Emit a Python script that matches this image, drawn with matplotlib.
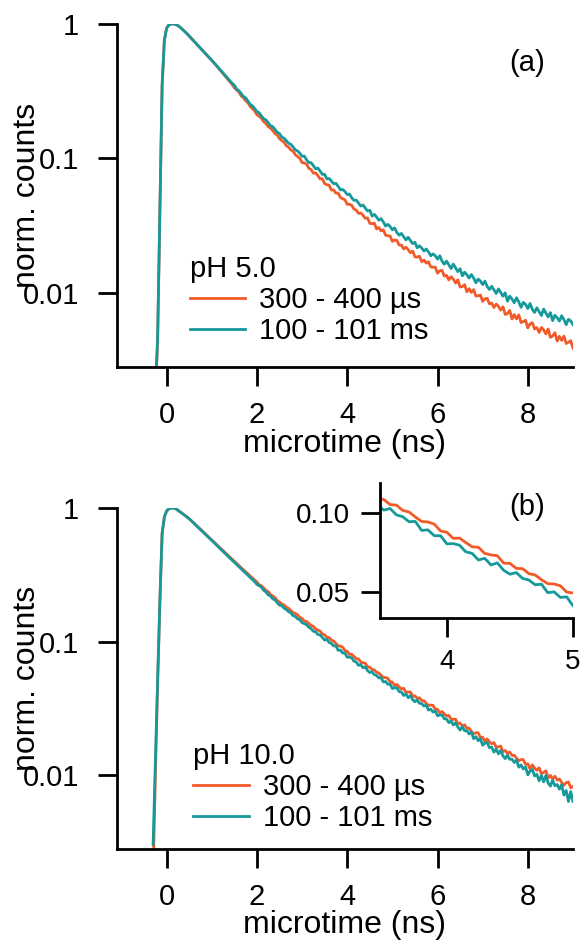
import matplotlib.pyplot as plt
import numpy as np
from matplotlib.ticker import FixedLocator, FixedFormatter, NullLocator

plt.rcParams['font.family'] = ['Liberation Sans', 'DejaVu Sans']

# decay histograms, 50 ps channels from -0.30 ns to 9.00 ns
# values are log10(norm. counts)

# (a) pH 5.0
log_a_300us = [
    -3.00, -2.76, -2.36, -1.40, -0.46, -0.12, -0.030, -0.008, 0.000, 0.000,
    -0.004, -0.012, -0.025, -0.040, -0.056, -0.072, -0.090, -0.107, -0.125, -0.143,
    -0.162, -0.180, -0.199, -0.216, -0.233, -0.252, -0.271, -0.290, -0.309, -0.330,
    -0.350, -0.370, -0.390, -0.410, -0.430, -0.450, -0.474, -0.491, -0.505, -0.535,
    -0.548, -0.572, -0.585, -0.614, -0.631, -0.647, -0.676, -0.687, -0.702, -0.727,
    -0.741, -0.765, -0.774, -0.794, -0.816, -0.826, -0.854, -0.868, -0.879, -0.906,
    -0.916, -0.937, -0.947, -0.973, -0.987, -1.000, -1.032, -1.034, -1.044, -1.074,
    -1.083, -1.110, -1.109, -1.128, -1.153, -1.152, -1.188, -1.197, -1.200, -1.236,
    -1.235, -1.259, -1.259, -1.292, -1.301, -1.309, -1.342, -1.342, -1.350, -1.378,
    -1.385, -1.410, -1.407, -1.424, -1.447, -1.444, -1.483, -1.487, -1.482, -1.525,
    -1.515, -1.540, -1.532, -1.572, -1.576, -1.578, -1.618, -1.608, -1.611, -1.645,
    -1.646, -1.674, -1.661, -1.679, -1.703, -1.690, -1.733, -1.735, -1.728, -1.769,
    -1.757, -1.780, -1.770, -1.808, -1.810, -1.810, -1.855, -1.836, -1.834, -1.876,
    -1.871, -1.905, -1.881, -1.899, -1.928, -1.904, -1.958, -1.955, -1.940, -1.993,
    -1.970, -1.998, -1.977, -2.025, -2.023, -2.017, -2.065, -2.045, -2.042, -2.083,
    -2.077, -2.110, -2.085, -2.102, -2.130, -2.105, -2.162, -2.155, -2.132, -2.196,
    -2.163, -2.195, -2.165, -2.222, -2.215, -2.205, -2.262, -2.232, -2.224, -2.270,
    -2.259, -2.296, -2.259, -2.276, -2.307, -2.270, -2.332, -2.323, -2.298, -2.360,
    -2.325, -2.355, -2.323, -2.378, -2.369, -2.357, -2.412,
]
log_a_100ms = [
    -3.00, -2.74, -2.34, -1.38, -0.45, -0.12, -0.030, -0.007, 0.000, 0.000,
    -0.004, -0.012, -0.025, -0.040, -0.056, -0.072, -0.090, -0.107, -0.125, -0.143,
    -0.162, -0.180, -0.198, -0.216, -0.234, -0.252, -0.270, -0.289, -0.308, -0.327,
    -0.346, -0.365, -0.384, -0.403, -0.422, -0.441, -0.456, -0.485, -0.496, -0.517,
    -0.540, -0.550, -0.573, -0.598, -0.609, -0.629, -0.652, -0.661, -0.685, -0.705,
    -0.714, -0.736, -0.757, -0.764, -0.785, -0.806, -0.816, -0.842, -0.850, -0.868,
    -0.888, -0.895, -0.915, -0.937, -0.945, -0.962, -0.985, -0.983, -1.011, -1.032,
    -1.032, -1.055, -1.078, -1.072, -1.096, -1.119, -1.119, -1.153, -1.150, -1.169,
    -1.189, -1.186, -1.209, -1.235, -1.232, -1.247, -1.270, -1.266, -1.294, -1.313,
    -1.311, -1.333, -1.355, -1.348, -1.370, -1.392, -1.386, -1.430, -1.417, -1.437,
    -1.461, -1.449, -1.473, -1.504, -1.491, -1.508, -1.532, -1.518, -1.552, -1.572,
    -1.559, -1.583, -1.607, -1.588, -1.611, -1.635, -1.625, -1.666, -1.651, -1.668,
    -1.690, -1.675, -1.697, -1.725, -1.711, -1.725, -1.750, -1.725, -1.765, -1.788,
    -1.765, -1.793, -1.820, -1.787, -1.815, -1.843, -1.822, -1.874, -1.848, -1.867,
    -1.891, -1.865, -1.891, -1.926, -1.899, -1.913, -1.940, -1.914, -1.954, -1.976,
    -1.952, -1.979, -2.006, -1.972, -1.999, -2.026, -2.001, -2.063, -2.026, -2.047,
    -2.075, -2.038, -2.069, -2.109, -2.072, -2.087, -2.118, -2.080, -2.124, -2.147,
    -2.112, -2.141, -2.170, -2.122, -2.151, -2.180, -2.148, -2.208, -2.168, -2.187,
    -2.211, -2.172, -2.200, -2.238, -2.198, -2.210, -2.238,
]

# (b) pH 10.0
log_b_300us = [
    -2.75, -2.00, -1.32, -0.71, -0.19, -0.066, -0.022, -0.007, 0.000, 0.000,
    -0.005, -0.017, -0.030, -0.042, -0.055, -0.067, -0.080, -0.096, -0.112, -0.128,
    -0.144, -0.160, -0.176, -0.192, -0.208, -0.224, -0.240, -0.256, -0.272, -0.288,
    -0.304, -0.320, -0.336, -0.352, -0.368, -0.384, -0.400, -0.416, -0.431, -0.447,
    -0.462, -0.478, -0.493, -0.509, -0.524, -0.540, -0.554, -0.575, -0.582, -0.600,
    -0.617, -0.626, -0.648, -0.659, -0.670, -0.694, -0.703, -0.719, -0.726, -0.743,
    -0.751, -0.768, -0.783, -0.789, -0.799, -0.819, -0.827, -0.846, -0.850, -0.865,
    -0.880, -0.886, -0.905, -0.914, -0.922, -0.943, -0.949, -0.968, -0.970, -0.990,
    -0.996, -1.015, -1.032, -1.034, -1.042, -1.068, -1.073, -1.096, -1.095, -1.112,
    -1.128, -1.130, -1.153, -1.159, -1.162, -1.190, -1.191, -1.210, -1.211, -1.230,
    -1.235, -1.253, -1.268, -1.269, -1.276, -1.300, -1.303, -1.330, -1.320, -1.339,
    -1.354, -1.350, -1.378, -1.379, -1.377, -1.410, -1.406, -1.425, -1.421, -1.441,
    -1.443, -1.463, -1.479, -1.475, -1.478, -1.507, -1.507, -1.534, -1.523, -1.542,
    -1.556, -1.553, -1.581, -1.583, -1.581, -1.615, -1.610, -1.633, -1.623, -1.649,
    -1.648, -1.672, -1.691, -1.682, -1.683, -1.719, -1.716, -1.748, -1.729, -1.750,
    -1.765, -1.756, -1.791, -1.788, -1.782, -1.824, -1.815, -1.837, -1.827, -1.852,
    -1.851, -1.874, -1.893, -1.883, -1.884, -1.919, -1.915, -1.954, -1.923, -1.947,
    -1.964, -1.945, -1.989, -1.980, -1.967, -2.021, -2.002, -2.028, -2.008, -2.037,
    -2.029, -2.055, -2.076, -2.056, -2.051, -2.095, -2.085,
]
log_b_100ms = [
    -2.52, -1.90, -1.29, -0.70, -0.19, -0.066, -0.022, -0.007, 0.000, 0.000,
    -0.005, -0.017, -0.030, -0.042, -0.055, -0.067, -0.081, -0.097, -0.113, -0.130,
    -0.146, -0.162, -0.179, -0.195, -0.211, -0.228, -0.244, -0.260, -0.277, -0.293,
    -0.309, -0.326, -0.342, -0.359, -0.375, -0.391, -0.408, -0.424, -0.440, -0.456,
    -0.471, -0.488, -0.503, -0.520, -0.535, -0.552, -0.573, -0.582, -0.594, -0.616,
    -0.629, -0.651, -0.658, -0.681, -0.687, -0.710, -0.727, -0.731, -0.750, -0.760,
    -0.776, -0.784, -0.806, -0.812, -0.830, -0.836, -0.859, -0.865, -0.875, -0.893,
    -0.904, -0.923, -0.927, -0.947, -0.950, -0.970, -0.989, -0.983, -1.007, -1.014,
    -1.033, -1.032, -1.066, -1.064, -1.086, -1.086, -1.117, -1.116, -1.122, -1.147,
    -1.153, -1.178, -1.172, -1.197, -1.189, -1.217, -1.232, -1.226, -1.248, -1.254,
    -1.272, -1.270, -1.302, -1.299, -1.320, -1.318, -1.352, -1.345, -1.347, -1.375,
    -1.377, -1.404, -1.392, -1.420, -1.404, -1.435, -1.451, -1.437, -1.462, -1.464,
    -1.483, -1.476, -1.513, -1.505, -1.528, -1.520, -1.556, -1.549, -1.550, -1.578,
    -1.579, -1.607, -1.595, -1.624, -1.608, -1.640, -1.662, -1.637, -1.668, -1.667,
    -1.692, -1.676, -1.727, -1.712, -1.742, -1.727, -1.776, -1.760, -1.756, -1.794,
    -1.790, -1.828, -1.804, -1.841, -1.814, -1.856, -1.876, -1.850, -1.882, -1.880,
    -1.905, -1.888, -1.940, -1.924, -1.954, -1.938, -1.998, -1.969, -1.958, -2.006,
    -1.994, -2.042, -2.002, -2.050, -2.003, -2.059, -2.082, -2.038, -2.079, -2.070,
    -2.105, -2.071, -2.149, -2.115, -2.197, -2.123, -2.197,
]

microtime = np.round(-0.30 + 0.05 * np.arange(len(log_a_300us)), 2)

labels = ["300 - 400 \u00b5s", "100 - 101 ms"]
orange = "#F15A29"
teal = "#16999B"

fig = plt.figure(figsize=(5.84, 9.40), dpi=100)
ax_a = fig.add_axes([0.2003, 0.6096, 0.7808, 0.3649])
ax_b = fig.add_axes([0.2003, 0.0968, 0.7808, 0.3628])
ins = fig.add_axes([0.6507, 0.3426, 0.3305, 0.1436])


def style(ax, size=21, xpad=11, ypad=14):
    ax.set_yscale("log")
    for s in ("top", "right"):
        ax.spines[s].set_visible(False)
    for s in ("left", "bottom"):
        ax.spines[s].set_linewidth(2)
    ax.yaxis.set_minor_locator(NullLocator())
    ax.xaxis.set_minor_locator(NullLocator())
    ax.tick_params(which="major", direction="out", length=13.5, width=2,
                   labelsize=size)
    ax.tick_params(axis="x", pad=xpad)
    ax.tick_params(axis="y", pad=ypad)


for ax, lo, hi, ph, anchor in [
    (ax_a, log_a_300us, log_a_100ms, "pH 5.0", (0.16, 0.3265)),
    (ax_b, log_b_300us, log_b_100ms, "pH 10.0", (0.167, 0.314)),
]:
    style(ax)
    ax.plot(microtime, 10 ** np.array(lo), color=orange, lw=2.0, label=labels[0])
    ax.plot(microtime, 10 ** np.array(hi), color=teal, lw=2.0, label=labels[1])
    ax.set_xlim(-1.1, 9.0)
    ax.set_ylim(0.0028, 1.0)
    ax.yaxis.set_major_locator(FixedLocator([0.01, 0.1, 1]))
    ax.yaxis.set_major_formatter(FixedFormatter(["0.01", "0.1", "1"]))
    ax.set_xticks([0, 2, 4, 6, 8])
    ax.set_xlabel("microtime (ns)", fontsize=23)
    ax.set_ylabel("norm. counts", fontsize=23)
    ax.xaxis.set_label_coords(0.5, -0.18)
    ax.yaxis.set_label_coords(-0.165, 0.5)
    ax.legend(title=ph, loc="upper left", bbox_to_anchor=anchor, frameon=False,
              fontsize=21, title_fontsize=21, handlelength=1.9,
              handletextpad=0.48, labelspacing=0.1, borderpad=0,
              borderaxespad=0, alignment="left")

ax_a.text(0.899, 0.886, "(a)", transform=ax_a.transAxes, ha="center",
          va="center", fontsize=21)

# inset: zoom of (b) between 3.5 and 5 ns
style(ins, 20, xpad=9, ypad=8)
ins.patch.set_alpha(0)
ins.plot(microtime, 10 ** np.array(log_b_300us), color=orange, lw=2.0)
ins.plot(microtime, 10 ** np.array(log_b_100ms), color=teal, lw=2.0)
ins.set_xlim(3.47, 5.0)
ins.set_ylim(0.040, 0.130)
ins.yaxis.set_major_locator(FixedLocator([0.05, 0.10]))
ins.yaxis.set_major_formatter(FixedFormatter(["0.05", "0.10"]))
ins.set_xticks([4, 5])
ins.text(0.762, 0.822, "(b)", transform=ins.transAxes, ha="center",
         va="center", fontsize=21)

fig.savefig("out.png", dpi=100)
